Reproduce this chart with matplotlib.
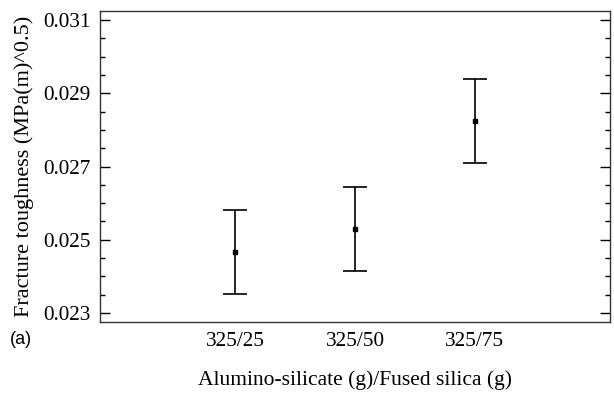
import matplotlib
matplotlib.use("Agg")
import matplotlib.pyplot as plt
from matplotlib.ticker import MultipleLocator

# ratio of alumino-silicate to fused silica (g)
ratios = ['325/25', '325/50', '325/75']
toughness = [0.02466, 0.02529, 0.02824]
errors = [0.00114, 0.00115, 0.00114]
yticks = [0.023, 0.025, 0.027, 0.029, 0.031]

positions = [1, 2, 3]

plt.rcParams['font.family'] = 'Liberation Serif'

fig = plt.figure(figsize=(6.14, 3.95), dpi=100)
ax = fig.add_axes([100 / 614, 1 - 322 / 395, 510 / 614, 311 / 395])

# error bars with a tiny marker in the middle
ax.errorbar(positions, toughness, yerr=errors, fmt='s', color='black',
            markersize=2.5, capsize=8.5, capthick=1.2, elinewidth=1.2)

ax.set_xlim(-0.125, 4.125)
ax.set_ylim(0.02275, 0.03125)

ax.set_xticks(positions)
ax.set_xticklabels(ratios)
ax.set_yticks(yticks)
ax.yaxis.set_minor_locator(MultipleLocator(0.0005))
ax.yaxis.set_major_formatter(plt.FormatStrFormatter('%.3f'))

ax.tick_params(axis='x', length=0, pad=7, labelsize=15.3)
ax.tick_params(axis='y', which='major', direction='in', length=7, width=1,
               right=True, pad=7, labelsize=15.3)
ax.tick_params(axis='y', which='minor', direction='in', length=3.5, width=1,
               right=True)

for s in ax.spines.values():
    s.set_linewidth(1)
    s.set_color('#333333')

ax.set_xlabel('Alumino-silicate (g)/Fused silica (g)', fontsize=15.5, labelpad=14)
ax.set_ylabel('Fracture toughness (MPa(m)^0.5)', fontsize=16, labelpad=6)

fig.text(10 / 614, 1 - 339 / 395, '(a)', family='Liberation Sans', fontsize=13,
         va='center', ha='left')

fig.savefig('out.png', dpi=100)
